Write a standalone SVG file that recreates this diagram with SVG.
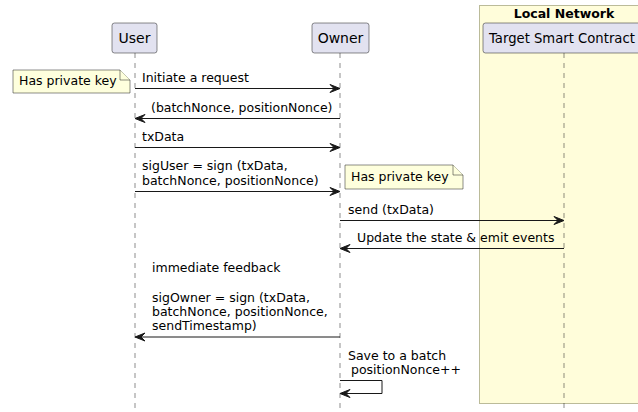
<svg xmlns="http://www.w3.org/2000/svg" width="638" height="412" viewBox="0 0 638 412">
<style>
text{font-family:"DejaVu Sans","Liberation Sans",sans-serif;font-size:12.5px;fill:#000}
.pt{font-size:14px}
.title{font-weight:bold;font-size:12.5px}
.part{fill:#E2E2F0;stroke:#181818;stroke-width:0.5}
.life{stroke:#181818;stroke-width:0.5;stroke-dasharray:5,5;fill:none}
.msg{stroke:#181818;stroke-width:1;fill:none}
.head{fill:#181818;stroke:#181818;stroke-width:1}
.note{fill:#FEFFDD;stroke:#181818;stroke-width:0.5}
.box{fill:#FFFDDA;stroke:#BBBB99;stroke-width:1}
</style>
<rect width="638" height="412" fill="#FFFFFF"/>
<g id="local-network">
<rect class="box" x="479.5" y="5.5" width="175" height="398"/>
<text class="title" x="564" y="18" text-anchor="middle">Local Network</text>
</g>
<g id="lifelines">
<line class="life" x1="135" y1="53" x2="135" y2="412"/>
<line class="life" x1="340" y1="53" x2="340" y2="412"/>
<line class="life" x1="564" y1="53" x2="564" y2="412"/>
</g>
<g id="user">
<rect class="part" x="112" y="23" width="45" height="30" rx="2.5"/>
<text class="pt" x="134.5" y="43" text-anchor="middle">User</text>
</g>
<g id="owner">
<rect class="part" x="312" y="23" width="57" height="30" rx="2.5"/>
<text class="pt" x="340.5" y="43" text-anchor="middle">Owner</text>
</g>
<g id="target">
<rect class="part" x="483" y="23" width="162" height="30" rx="2.5"/>
<text class="pt" x="489" y="43" style="font-size:13.2px">Target Smart Contract</text>
</g>
<g id="note-user">
<path class="note" d="M13,70 L120,70 L130,80 L130,93 L13,93 Z"/>
<path class="note" d="M120,70 L120,80 L130,80"/>
<text x="19" y="85">Has private key</text>
</g>
<g id="note-owner">
<path class="note" d="M345,165 L453,165 L463,175 L463,189 L345,189 Z"/>
<path class="note" d="M453,165 L453,175 L463,175"/>
<text x="351" y="181">Has private key</text>
</g>
<g id="connectors">
<line class="msg" x1="135" y1="88.5" x2="338" y2="88.5"/>
<polygon class="head" points="340,88.5 330,84.5 334,88.5 330,92.5"/>
<text x="142" y="82">Initiate a request</text>

<line class="msg" x1="137" y1="118.5" x2="340" y2="118.5"/>
<polygon class="head" points="135,118.5 145,114.5 141,118.5 145,122.5"/>
<text x="151" y="112">(batchNonce, positionNonce)</text>

<line class="msg" x1="135" y1="147.5" x2="338" y2="147.5"/>
<polygon class="head" points="340,147.5 330,143.5 334,147.5 330,151.5"/>
<text x="142" y="141">txData</text>

<line class="msg" x1="135" y1="191.5" x2="338" y2="191.5"/>
<polygon class="head" points="340,191.5 330,187.5 334,191.5 330,195.5"/>
<text x="142" y="170">sigUser = sign (txData,</text>
<text x="142" y="185">batchNonce, positionNonce)</text>

<line class="msg" x1="340" y1="220.5" x2="562" y2="220.5"/>
<polygon class="head" points="564,220.5 554,216.5 558,220.5 554,224.5"/>
<text x="348" y="214">send (txData)</text>

<line class="msg" x1="342" y1="248.5" x2="564" y2="248.5"/>
<polygon class="head" points="340,248.5 350,244.5 346,248.5 350,252.5"/>
<text x="357" y="242">Update the state &amp; emit events</text>

<text x="152" y="272">immediate feedback</text>

<line class="msg" x1="137" y1="337" x2="340" y2="337"/>
<polygon class="head" points="135,337 145,333 141,337 145,341"/>
<text x="152" y="302">sigOwner = sign (txData,</text>
<text x="152" y="316">batchNonce, positionNonce,</text>
<text x="152" y="330">sendTimestamp)</text>

<polyline class="msg" points="340,380.5 382,380.5 382,393.5 342,393.5"/>
<polygon class="head" points="340,393.5 350,389.5 346,393.5 350,397.5"/>
<text x="348" y="360">Save to a batch</text>
<text x="351" y="374">positionNonce++</text>
</g>
</svg>
